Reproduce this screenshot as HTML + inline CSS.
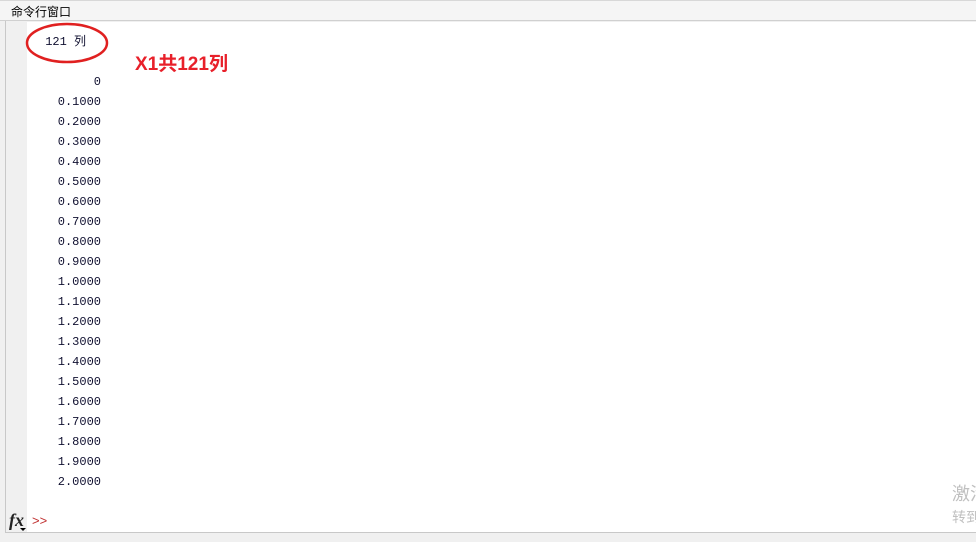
<!DOCTYPE html>
<html><head><meta charset="utf-8"><style>
body{margin:0;width:976px;height:542px;background:#f0f0f0;position:relative;overflow:hidden;font-family:"Liberation Sans","Noto Sans CJK SC",sans-serif}
.title{position:absolute;left:0;top:0;width:976px;height:21px;background:#f5f5f5;border-top:1px solid #d8d8d8;border-bottom:1px solid #d0d0d0;box-sizing:border-box}
.title span{position:absolute;left:11px;top:2px;font-size:12px;color:#000}
.frame{position:absolute;left:5px;top:21px;width:971px;height:511px;border-left:1px solid #c8c8c8;border-bottom:1px solid #c8c8c8;background:#f0f0f0}
.white{position:absolute;left:27px;top:22px;width:949px;height:510px;background:#fff}
.n{position:absolute;right:875px;font-family:"Liberation Mono","Noto Sans CJK SC",monospace;font-size:12px;color:#101030;line-height:14px}
.red{position:absolute;left:135px;top:49px;font-size:19px;font-weight:bold;color:#e8202a;white-space:nowrap}
.wm{position:absolute;left:952px;color:#c0c0c0;white-space:nowrap}
</style></head><body>
<div class="title"><span>命令行窗口</span></div>
<div class="frame"></div>
<div class="white"></div>
<div class="n" style="top:35px;right:890px;font-size:12px">121 列</div>
<svg style="position:absolute;left:0;top:0" width="976" height="542"><ellipse cx="67" cy="43" rx="40" ry="19" fill="none" stroke="#e02020" stroke-width="2.5"/></svg>
<div class="red">X1共121列</div>
<div class="n" style="top:75px">0</div>
<div class="n" style="top:95px">0.1000</div>
<div class="n" style="top:115px">0.2000</div>
<div class="n" style="top:135px">0.3000</div>
<div class="n" style="top:155px">0.4000</div>
<div class="n" style="top:175px">0.5000</div>
<div class="n" style="top:195px">0.6000</div>
<div class="n" style="top:215px">0.7000</div>
<div class="n" style="top:235px">0.8000</div>
<div class="n" style="top:255px">0.9000</div>
<div class="n" style="top:275px">1.0000</div>
<div class="n" style="top:295px">1.1000</div>
<div class="n" style="top:315px">1.2000</div>
<div class="n" style="top:335px">1.3000</div>
<div class="n" style="top:355px">1.4000</div>
<div class="n" style="top:375px">1.5000</div>
<div class="n" style="top:395px">1.6000</div>
<div class="n" style="top:415px">1.7000</div>
<div class="n" style="top:435px">1.8000</div>
<div class="n" style="top:455px">1.9000</div>
<div class="n" style="top:475px">2.0000</div>
<div style="position:absolute;left:9px;top:510px;font-family:'Liberation Serif',serif;font-style:italic;font-weight:bold;font-size:18px;color:#222">fx</div>
<div style="position:absolute;left:20px;top:528px;width:0;height:0;border-left:3px solid transparent;border-right:3px solid transparent;border-top:3px solid #000"></div>
<div style="position:absolute;left:32px;top:513px;font-size:13px;color:#c03030">&gt;&gt;</div>
<div class="wm" style="top:480px;font-size:18px">激活</div>
<div class="wm" style="top:507px;font-size:14px">转到</div>
</body></html>
